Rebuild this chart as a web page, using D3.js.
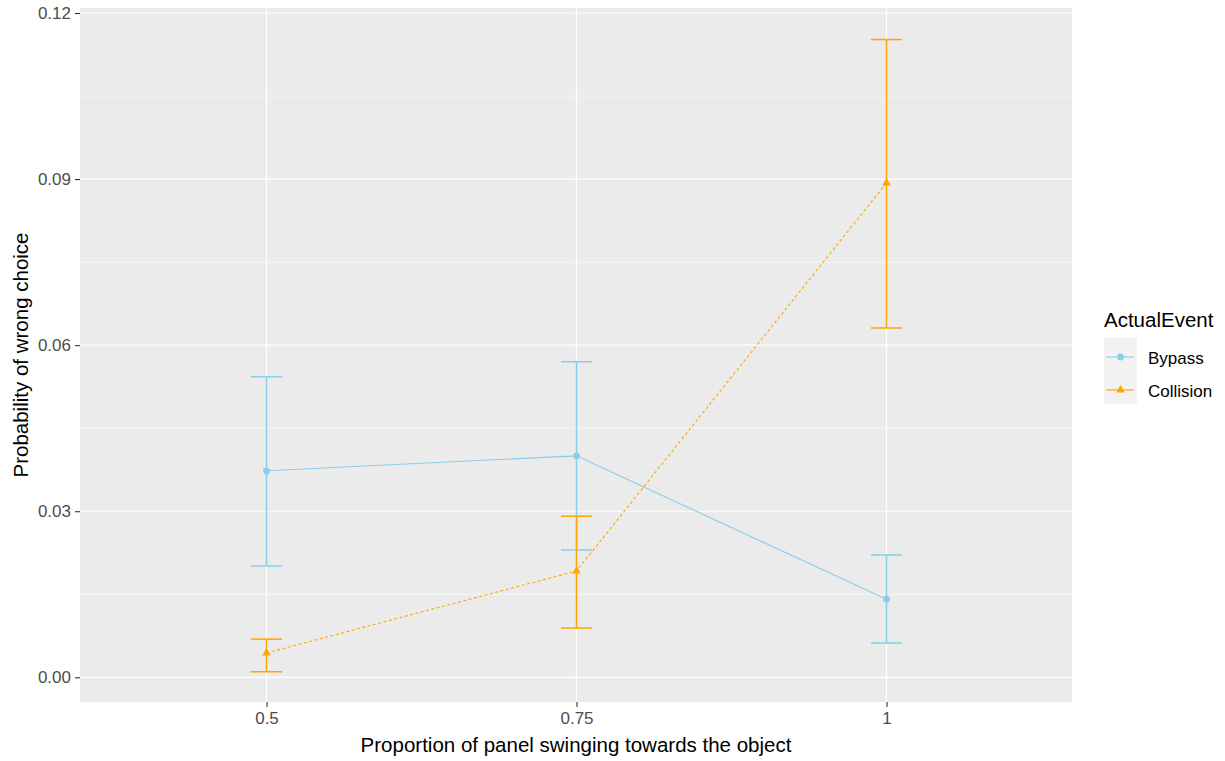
<!DOCTYPE html>
<html><head><meta charset="utf-8">
<script src="https://cdn.jsdelivr.net/npm/d3@7"></script>
<style>body{margin:0;background:#fff}svg{display:block;font-family:"Liberation Sans",Arial,sans-serif}</style>
</head><body><svg id="c" width="1225" height="761"></svg>
<script>
const categories = ["0.5", "0.75", "1"];
const seriesNames = ["Bypass", "Collision"];
const bypassMean  = [0.0373, 0.0400, 0.0141];
const bypassLow   = [0.0201, 0.0230, 0.0062];
const bypassHigh  = [0.0543, 0.0570, 0.0221];
const collisionMean = [0.0044, 0.0192, 0.0893];
const collisionLow  = [0.0010, 0.0089, 0.0631];
const collisionHigh = [0.0069, 0.0291, 0.1152];
const yTicks = [0, 0.03, 0.06, 0.09, 0.12];
const yMinor = [0.015, 0.045, 0.075, 0.105];
const colors = ["#87CEEB", "#FFA500"];

const svg = d3.select("#c");
const P = {l: 80, r: 1072, t: 8, b: 702};
const x = d3.scalePoint().domain(categories).range([266.5, 886.5]);
const y = d3.scaleLinear().domain([0, 0.12]).range([677.3, 13]);

svg.append("rect").attr("x", P.l).attr("y", P.t).attr("width", P.r - P.l).attr("height", P.b - P.t).attr("fill", "#EBEBEB");
const g = svg.append("g");
g.selectAll(".mn").data(yMinor).join("line").attr("x1", P.l).attr("x2", P.r)
  .attr("y1", d => y(d)).attr("y2", d => y(d)).attr("stroke", "#fff").attr("stroke-width", 0.6);
g.selectAll(".mj").data(yTicks).join("line").attr("x1", P.l).attr("x2", P.r)
  .attr("y1", d => y(d)).attr("y2", d => y(d)).attr("stroke", "#fff").attr("stroke-width", 1.2);
g.selectAll(".vx").data(categories).join("line").attr("y1", P.t).attr("y2", P.b)
  .attr("x1", d => x(d)).attr("x2", d => x(d)).attr("stroke", "#fff").attr("stroke-width", 1.2);

// axes
const yAxis = d3.axisLeft(y).tickValues(yTicks).tickFormat(d3.format(".2f")).tickSize(5).tickPadding(4);
const ya = svg.append("g").attr("transform", `translate(${P.l},0)`).call(yAxis);
const xAxis = d3.axisBottom(x).tickSize(5).tickPadding(5);
const xa = svg.append("g").attr("transform", `translate(0,${P.b})`).call(xAxis);
[ya, xa].forEach(a => {
  a.select(".domain").remove();
  a.selectAll(".tick line").attr("stroke", "#333").attr("stroke-width", 1.1);
  a.selectAll(".tick text").attr("fill", "#4D4D4D").style("font-size", "17px").style("font-family", "'Liberation Sans',Arial,sans-serif");
});

svg.append("text").attr("x", (P.l + P.r) / 2).attr("y", 752).attr("text-anchor", "middle")
  .attr("fill", "#000").style("font-size", "20.5px").text("Proportion of panel swinging towards the object");
svg.append("text").attr("transform", `translate(28,${(P.t + P.b) / 2}) rotate(-90)`).attr("text-anchor", "middle")
  .attr("fill", "#000").style("font-size", "20.5px").text("Probability of wrong choice");

const series = [
  {name: seriesNames[0], mean: bypassMean, lo: bypassLow, hi: bypassHigh, color: colors[0], dash: null, shape: d3.symbolCircle},
  {name: seriesNames[1], mean: collisionMean, lo: collisionLow, hi: collisionHigh, color: colors[1], dash: "3,2.5", shape: d3.symbolTriangle}
];
const hw = 15.5;
series.forEach(s => {
  const gs = svg.append("g");
  const line = d3.line().x((d, i) => x(categories[i])).y(d => y(d));
  gs.append("path").attr("d", line(s.mean)).attr("fill", "none").attr("stroke", s.color)
    .attr("stroke-width", 1.1).attr("stroke-dasharray", s.dash);
  categories.forEach((c, i) => {
    const cx = x(c);
    gs.append("line").attr("x1", cx).attr("x2", cx).attr("y1", y(s.lo[i])).attr("y2", y(s.hi[i])).attr("stroke", s.color).attr("stroke-width", 1.5);
    gs.append("line").attr("x1", cx - hw).attr("x2", cx + hw).attr("y1", y(s.lo[i])).attr("y2", y(s.lo[i])).attr("stroke", s.color).attr("stroke-width", 1.5);
    gs.append("line").attr("x1", cx - hw).attr("x2", cx + hw).attr("y1", y(s.hi[i])).attr("y2", y(s.hi[i])).attr("stroke", s.color).attr("stroke-width", 1.5);
    gs.append("path").attr("d", d3.symbol().type(s.shape).size(s.shape === d3.symbolCircle ? 36 : 32)())
      .attr("transform", `translate(${cx},${y(s.mean[i])})`).attr("fill", s.color);
  });
});

// legend
const L = svg.append("g");
L.append("text").attr("x", 1104).attr("y", 327).attr("fill", "#000").style("font-size", "20.5px").text("ActualEvent");
L.append("rect").attr("x", 1104).attr("y", 338).attr("width", 33).attr("height", 66).attr("fill", "#F2F2F2");
series.forEach((s, i) => {
  const yy = 357 + i * 33;
  L.append("line").attr("x1", 1106).attr("x2", 1134).attr("y1", yy).attr("y2", yy).attr("stroke", s.color).attr("stroke-width", 1.1);
  L.append("path").attr("d", d3.symbol().type(s.shape).size(s.shape === d3.symbolCircle ? 36 : 32)())
    .attr("transform", `translate(1120.5,${yy})`).attr("fill", s.color);
  L.append("text").attr("x", 1148).attr("y", yy + 6.5).attr("fill", "#000").style("font-size", "17px").text(s.name);
});
</script></body></html>
